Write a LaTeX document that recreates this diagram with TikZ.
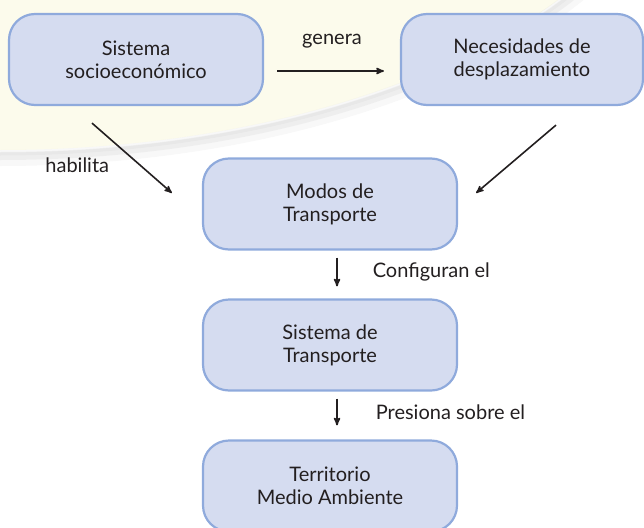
\documentclass[tikz,border=0pt]{standalone}
\usepackage{fontspec}
\setmainfont{Lato}
\usetikzlibrary{arrows,positioning}
\definecolor{boxfill}{HTML}{D5DCF0}
\definecolor{boxline}{HTML}{8FAADC}
\definecolor{glow}{HTML}{FCFBEC}
\definecolor{ink}{HTML}{231F20}

\begin{document}
\begin{tikzpicture}[x=1pt,y=-1pt,>=stealth',node distance=141pt,
    box/.style={shape=rectangle,rounded corners=26pt,fill=boxfill,draw=boxline,line width=2.2pt,
        minimum width=254pt,minimum height=91pt,align=center,text=ink,font=\fontsize{20}{23}\selectfont},
    lbl/.style={inner sep=0pt,text=ink,font=\fontsize{20}{23}\selectfont},
    every edge/.style={draw,line width=1.6pt,color=ink}]
	\clip (0,0) rectangle (644,527);
	% fondo
	\fill[glow] (0,-200) ellipse [x radius=680, y radius=350];
	\draw[gray,opacity=0.06,line width=16pt] (0,-200) ellipse [x radius=688, y radius=358];
	\draw[gray,opacity=0.08,line width=8pt] (0,-200) ellipse [x radius=686, y radius=356];
	\draw[gray,opacity=0.06,line width=3pt] (0,-200) ellipse [x radius=684, y radius=354];
	
	\node (sistema) [box] at (136,59.5) {Sistema\\socioecon\'omico};
	\node (necesidades) [box,minimum width=242pt] at (522,59.5) {Necesidades de\\desplazamiento};
	\node (modos) [box] at (330,204) {Modos de\\Transporte};
	\node (transporte) [box] [below of = modos] {Sistema de\\Transporte};
	\node (territorio) [box] [below of = transporte] {Territorio\\Medio Ambiente};
	
	\path[->]([yshift=-11.5pt]sistema.east) edge [shorten <=13pt, shorten >=16pt] node [lbl,above=22pt] {genera} ([yshift=-11.5pt]necesidades.west);
	\path[->]([xshift=-44pt,yshift=-17pt]sistema.south) edge node [lbl,pos=0.6,left=30pt] {habilita} ([xshift=-30pt,yshift=11pt]modos.west);
	\path[->]([xshift=34pt,yshift=-19pt]necesidades.south) edge ([xshift=18pt,yshift=11pt]modos.east);
	\path[->]([xshift=7pt,yshift=-7pt]modos.south) edge node [lbl,right=35pt] {Configuran el} ([xshift=7pt,yshift=12pt]transporte.north);
	\path[->]([xshift=7pt,yshift=-7pt]transporte.south) edge node [lbl,right=38pt] {Presiona sobre el} ([xshift=7pt,yshift=14pt]territorio.north);
\end{tikzpicture}
\end{document}
